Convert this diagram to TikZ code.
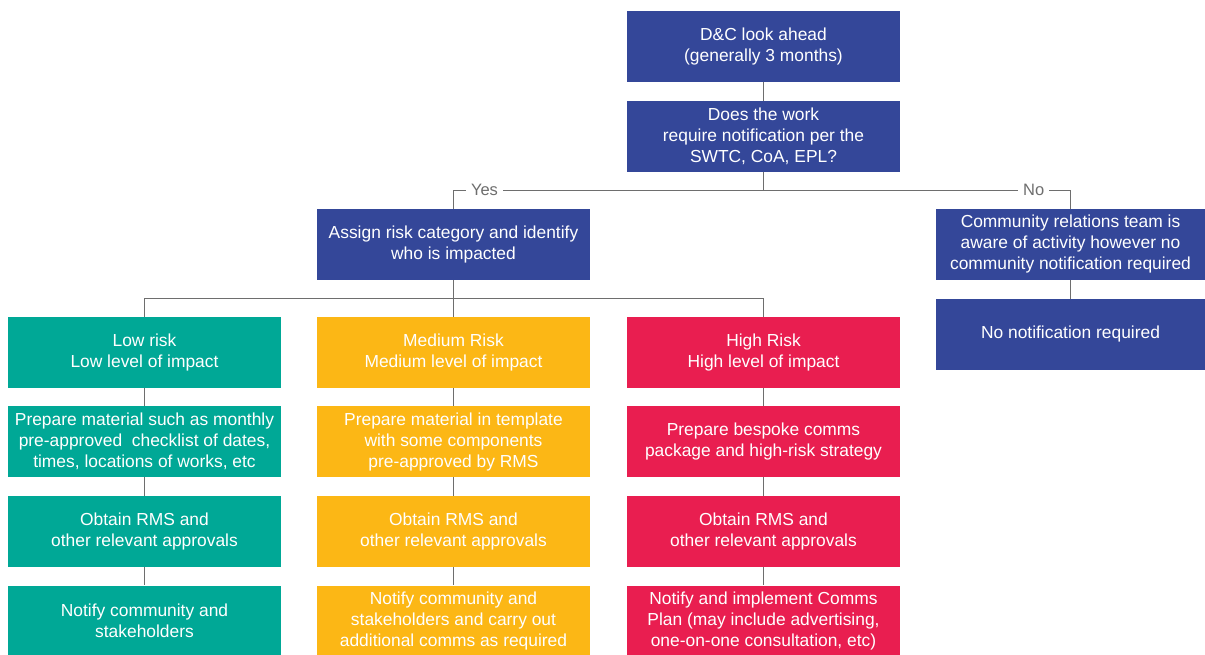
\documentclass[tikz,border=0pt]{standalone}
\usepackage{fontspec}
\setmainfont{Liberation Sans}
\definecolor{dcblue}{RGB}{52,71,153}
\definecolor{lowteal}{RGB}{0,168,150}
\definecolor{medyellow}{RGB}{252,183,21}
\definecolor{highred}{RGB}{233,30,80}
\definecolor{linegray}{RGB}{110,110,110}
\tikzset{
  box/.style={fill=#1, text=white, minimum width=273, minimum height=71,
    align=center, inner sep=2, font=\fontsize{17.4}{21}\selectfont},
  link/.style={draw=linegray, line width=0.9},
  lbl/.style={fill=white, text=linegray, inner xsep=5, inner ysep=1,
    font=\fontsize{16.5}{18}\selectfont}
}
\begin{document}
\begin{tikzpicture}[x=1pt,y=-1pt]
  \useasboundingbox (0,0) rectangle (1205,655);
  \node[box=dcblue] (lookahead) at (763.5,46.5) {D\&C look ahead\\(generally 3 months)};
  \node[box=dcblue] (question) at (763.5,136.5) {Does the work\\require notification per the\\SWTC, CoA, EPL?};
  \node[box=dcblue] (assign) at (453.5,244.5) {Assign risk category and identify\\who is impacted};
  \node[box=dcblue, minimum width=269] (aware) at (1070.5,244.5) {Community relations team is\\aware of activity however no\\community notification required};
  \node[box=dcblue, minimum width=269] (nonotify) at (1070.5,334.5) {No notification required};

  \node[box=lowteal] (low) at (144.5,352.5) {Low risk\\Low level of impact};
  \node[box=lowteal] (lowprep) at (144.5,441.5) {Prepare material such as monthly\\pre-approved\ \ checklist of dates,\\times, locations of works, etc};
  \node[box=lowteal] (lowrms) at (144.5,531.5) {Obtain RMS and\\other relevant approvals};
  \node[box=lowteal] (lownotify) at (144.5,621) {Notify community and\\stakeholders};

  \node[box=medyellow] (med) at (453.5,352.5) {Medium Risk\\Medium level of impact};
  \node[box=medyellow] (medprep) at (453.5,441.5) {Prepare material in template\\with some components\\pre-approved by RMS};
  \node[box=medyellow] (medrms) at (453.5,531.5) {Obtain RMS and\\other relevant approvals};
  \node[box=medyellow] (mednotify) at (453.5,621) {Notify community and\\stakeholders and carry out\\additional comms as required};

  \node[box=highred] (high) at (763.5,352.5) {High Risk\\High level of impact};
  \node[box=highred] (highprep) at (763.5,441.5) {Prepare bespoke comms\\package and high-risk strategy};
  \node[box=highred] (highrms) at (763.5,531.5) {Obtain RMS and\\other relevant approvals};
  \node[box=highred] (highnotify) at (763.5,621) {Notify and implement Comms\\Plan (may include advertising,\\one-on-one consultation, etc)};

  \coordinate (split) at (763.5,190);
  \coordinate (fork) at (453.5,298);
  \draw[link] (lookahead) -- (question);
  \draw[link] (question) -- (split);
  \draw[link] (split) -| node[lbl, pos=0.45] {Yes} (assign.north);
  \draw[link] (split) -| node[lbl, pos=0.44] {No} (aware.north);
  \draw[link] (aware) -- (nonotify);
  \draw[link] (assign) -- (fork);
  \draw[link] (fork) -| (low.north);
  \draw[link] (fork) -| (high.north);
  \draw[link] (fork) -- (med.north);
  \foreach \col in {low,med,high} {
    \draw[link] (\col) -- (\col prep);
    \draw[link] (\col prep) -- (\col rms);
    \draw[link] (\col rms) -- (\col notify);
  }
\end{tikzpicture}
\end{document}
